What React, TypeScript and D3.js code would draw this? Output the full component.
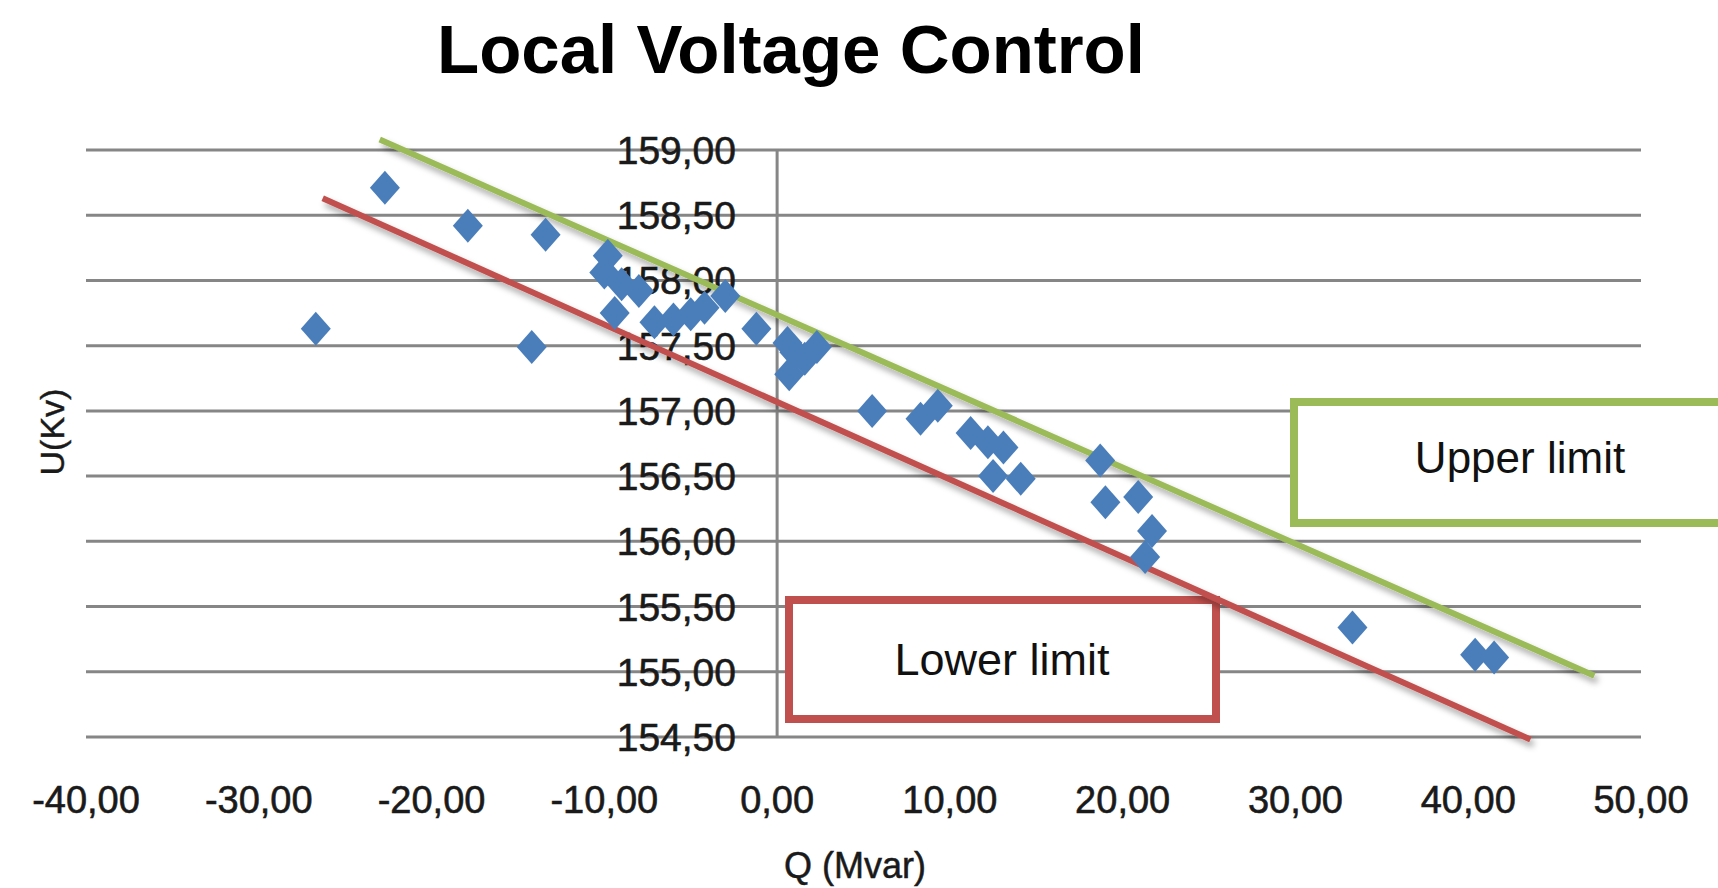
import React from 'react';
import * as d3 from 'd3';

// measured points (Q in Mvar, U in kV)
const qValues = [-26.7, -22.7, -17.9, -13.4, -14.2, -9.8, -10.0, -9.0, -8.0, -9.4, -7.1, -6.0, -5.0, -4.2, -3.0, -1.2,
  0.6, 1.0, 0.7, 1.6, 2.3, 5.5, 8.3, 9.3, 11.2, 12.2, 13.1, 12.5, 14.1, 18.7, 19.0, 20.9, 21.7, 21.3, 33.3, 40.4, 41.5];
const uValues = [157.63, 158.71, 158.42, 158.35, 157.49, 158.19, 158.06, 157.97, 157.92, 157.75, 157.68, 157.70, 157.74, 157.79, 157.88, 157.63,
  157.52, 157.45, 157.28, 157.40, 157.49, 157.00, 156.94, 157.04, 156.83, 156.76, 156.72, 156.50, 156.48, 156.62, 156.30, 156.34, 156.08, 155.88, 155.34, 155.13, 155.11];

// limit lines, [start, end]
const upperQ = [-23.0, 47.3];
const upperU = [159.08, 154.97];
const lowerQ = [-26.3, 43.6];
const lowerU = [158.63, 154.48];

const xTicks = [-40, -30, -20, -10, 0, 10, 20, 30, 40, 50];
const yTicks = [159, 158.5, 158, 157.5, 157, 156.5, 156, 155.5, 155, 154.5];

const fmt = (v: number) => d3.format('.2f')(v).replace('.', ',').replace('−', '-');

const W = 1718;
const H = 888;

export default function App() {
  const x = d3.scaleLinear().domain([-40, 50]).range([86, 1641]);
  const y = d3.scaleLinear().domain([154.5, 159]).range([737, 150]);
  const line = d3.line<[number, number]>().x(d => x(d[0])).y(d => y(d[1]));
  const diamond = 'M0,-17L15,0L0,17L-15,0Z';
  const tickFont = '"Liberation Sans", Arial, sans-serif';

  return (
    <svg width={W} height={H} style={{ position: 'absolute', left: 0, top: 0, background: '#fff' }}>
      <defs>
        <filter id="shadow" x="-10%" y="-10%" width="120%" height="130%">
          <feDropShadow dx="3" dy="5" stdDeviation="3" floodColor="#000" floodOpacity="0.35" />
        </filter>
      </defs>
      <text x={437} y={73} fontFamily={tickFont} fontWeight="bold" fontSize={69} fill="#000">Local Voltage Control</text>

      {/* grid */}
      {yTicks.map(t => (
        <line key={t} x1={x(-40)} x2={x(50)} y1={y(t)} y2={y(t)} stroke="#868686" strokeWidth={3} />
      ))}
      <line x1={x(0)} x2={x(0)} y1={y(159)} y2={y(154.5)} stroke="#868686" strokeWidth={3} />

      {yTicks.map(t => (
        <text key={t} x={736} y={y(t)} dy="0.36em" textAnchor="end" fontFamily={tickFont} fontSize={39}
          fill="#1a1a1a" stroke="#1a1a1a" strokeWidth={0.6}>{fmt(t)}</text>
      ))}
      {xTicks.map(t => (
        <text key={t} x={x(t)} y={813} textAnchor="middle" fontFamily={tickFont} fontSize={38}
          fill="#1a1a1a" stroke="#1a1a1a" strokeWidth={0.6}>{fmt(t)}</text>
      ))}
      <text x={855} y={878} textAnchor="middle" fontFamily={tickFont} fontSize={36} fill="#1a1a1a"
        stroke="#1a1a1a" strokeWidth={0.5}>Q (Mvar)</text>
      <text transform={`translate(64,432) rotate(-90)`} textAnchor="middle" fontFamily={tickFont} fontSize={34}
        fill="#1a1a1a" stroke="#1a1a1a" strokeWidth={0.4}>U(Kv)</text>

      {/* annotation boxes */}
      <rect x={1294} y={402} width={440} height={121} fill="#fff" stroke="#9BBB59" strokeWidth={8} />
      <text x={1520} y={473} textAnchor="middle" fontFamily={tickFont} fontSize={44} fill="#111">Upper limit</text>
      <rect x={789} y={600} width={427} height={119} fill="#fff" stroke="#C0504D" strokeWidth={8} />
      <text x={1002} y={675} textAnchor="middle" fontFamily={tickFont} fontSize={45} fill="#111">Lower limit</text>

      {/* limit lines */}
      <path d={line(d3.zip(upperQ, upperU) as [number, number][]) || ''} stroke="#9BBB59" strokeWidth={6} fill="none" filter="url(#shadow)" />
      <path d={line(d3.zip(lowerQ, lowerU) as [number, number][]) || ''} stroke="#C0504D" strokeWidth={6} fill="none" filter="url(#shadow)" />

      {/* points */}
      {qValues.map((q, i) => (
        <path key={i} d={diamond} transform={`translate(${x(q)},${y(uValues[i])})`} fill="#4A7EBB" />
      ))}
    </svg>
  );
}
